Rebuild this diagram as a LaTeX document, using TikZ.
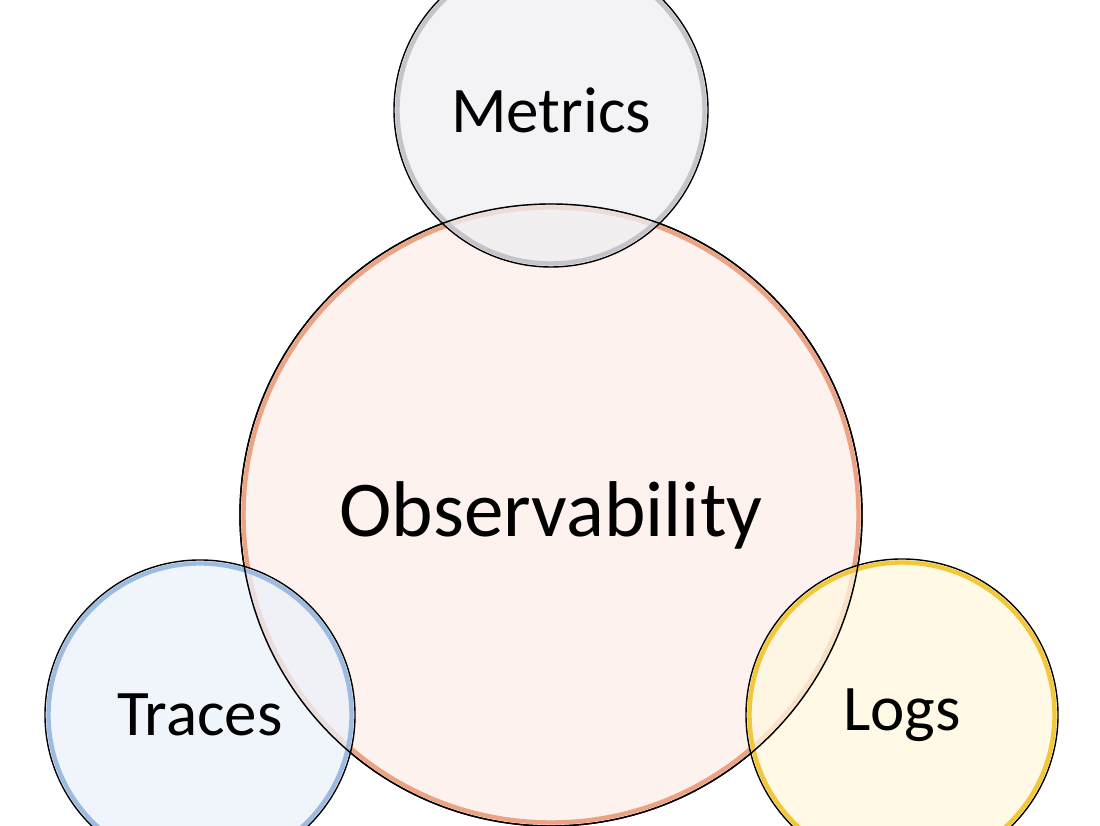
\documentclass[tikz,border=0pt]{standalone}
\usepackage{fontspec}
\setmainfont{Carlito}
\usetikzlibrary{positioning}

\definecolor{obsfill}{HTML}{FCEDE8}
\definecolor{obsedge}{HTML}{EBA384}
\definecolor{metfill}{HTML}{EFEFF2}
\definecolor{metedge}{HTML}{C4C4CA}
\definecolor{trcfill}{HTML}{EBF1F9}
\definecolor{trcedge}{HTML}{9DBBE0}
\definecolor{logfill}{HTML}{FFF7DE}
\definecolor{logedge}{HTML}{F2C73A}

\tikzset{
  bubble/.style={circle, draw=black, line width=0.8pt, inner sep=0pt, fill opacity=0.75, text opacity=1},
}

\begin{document}
\begin{tikzpicture}
  \useasboundingbox (0,0) rectangle (22,16.52);

  % Main circle
  \node[bubble, minimum size=12.44cm, fill=obsfill, font=\fontsize{45}{50}\selectfont] (obs) at (11.02,6.22) {Observability};
  \draw[obsedge, line width=2.5pt] (obs.center) circle (6.15cm);

  % Satellites
  \node[bubble, minimum size=6.28cm, fill=metfill, font=\fontsize{37}{42}\selectfont] (metrics) at (11.02,14.32) {Metrics};
  \draw[metedge, line width=2.5pt] (metrics.center) circle (3.07cm);

  \node[bubble, minimum size=6.2cm, fill=trcfill, font=\fontsize{37}{42}\selectfont] (traces) at (4.0,2.22) {Traces};
  \draw[trcedge, line width=2.5pt] (traces.center) circle (3.03cm);

  \node[bubble, minimum size=6.24cm, fill=logfill, font=\fontsize{37}{42}\selectfont] (logs) at (18.04,2.22) {Logs};
  \draw[logedge, line width=2.5pt] (logs.center) circle (3.05cm);

  % Outlines on top
  \draw[line width=0.8pt] (obs.center) circle (6.22cm);
\end{tikzpicture}
\end{document}
